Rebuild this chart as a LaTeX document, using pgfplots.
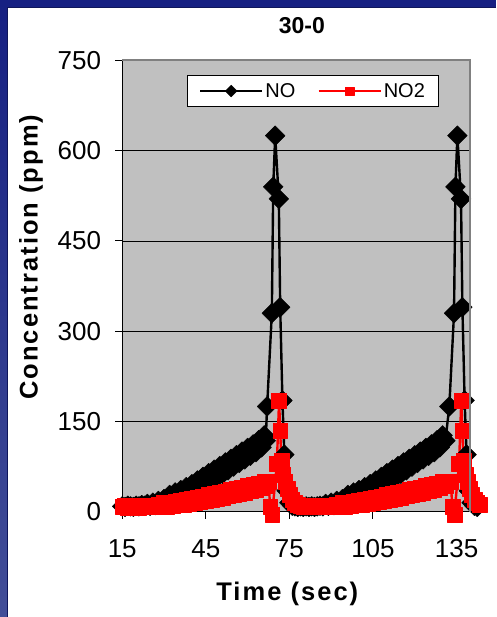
\documentclass[border=0pt]{standalone}
\usepackage{fontspec}
\setmainfont{Liberation Sans}
\newfontfamily\lblfont[LetterSpace=8]{Liberation Sans}
\usepackage{pgfplots}
\usepackage{pgfplotstable}
\pgfplotsset{compat=1.18}
\definecolor{plotgray}{RGB}{192,192,192}
\definecolor{framegray}{RGB}{128,128,128}
\definecolor{navytop}{RGB}{22,32,130}
\definecolor{navybot}{RGB}{66,78,152}
\definecolor{exred}{RGB}{255,0,0}

\pgfplotstableread{
t v
15 9
16 8
17 10
18 9
19 8
20 10
21 9
22 11
23 10
24 13
25 10
26 15
27 11
28 18
29 12
30 21
31 13
32 28
33 14
34 32
35 18
36 36
37 23
38 41
39 28
40 46
41 33
42 52
43 39
44 58
45 45
46 64
47 51
48 70
49 57
50 76
51 63
52 82
53 69
54 88
55 75
56 94
57 81
58 100
59 87
60 106
61 93
62 112
63 99
64 119
65 107
66 127
66.5 118
67 175
68.7 330
69.2 540
69.9 625
71.2 520
71.7 340
72.5 185
73.2 95
74 35
75 15
76 10
77 9
78 8
79 9
80 8
81 9
82 8
83 9
84 8
85 9
86 10
87 9
88 13
89 10
90 15
91 11
92 18
93 12
94 21
95 13
96 28
97 14
98 32
99 18
100 36
101 23
102 41
103 28
104 46
105 33
106 52
107 39
108 58
109 45
110 64
111 51
112 70
113 57
114 76
115 63
116 82
117 69
118 88
119 75
120 94
121 81
122 100
123 87
124 106
125 93
126 112
127 99
128 119
129 107
130 127
131 118
132.4 175
134.1 330
134.6 540
135.3 625
136.6 520
137.1 340
137.9 185
138.6 95
139.4 35
140.4 15
141.4 10
142.4 8
}\noTable

\pgfplotstableread{
t v
15 8
16 10
17 7
18 9
19 8
20 10
21 7
22 9
23 8
24 10
25 8
26 11
27 9
28 12
29 10
30 15
31 9
32 16
33 10
34 17
35 11
36 19
37 12
38 20
39 13
40 22
41 15
42 24
43 16
44 26
45 18
46 28
47 20
48 30
49 22
50 32
51 24
52 34
53 26
54 36
55 28
56 38
57 30
58 40
59 32
60 43
61 34
62 45
63 36
64 47
65 39
66 50
67 43
67.5 50
68.1 8
68.8 -5
70.5 80
71.3 185
71.7 135
72.1 85
72.8 62
73.5 50
74.3 38
75 28
76 20
77 15
78 12
79 10
80 9
81 10
82 9
83 10
84 9
85 10
86 9
87 10
88 10
89 8
90 11
91 9
92 12
93 10
94 15
95 9
96 16
97 10
98 17
99 11
100 19
101 12
102 20
103 13
104 22
105 15
106 24
107 16
108 26
109 18
110 28
111 20
112 30
113 22
114 32
115 24
116 34
117 26
118 36
119 28
120 38
121 30
122 40
123 32
124 43
125 34
126 45
127 36
128 47
129 39
130 50
131 43
132.9 50
133.5 8
134.2 -5
135.9 80
136.7 185
137.1 135
137.5 85
138.2 62
138.9 50
139.7 38
140.4 28
141.4 20
142.4 15
143.2 12
}\notwoTable

\begin{document}
\begin{tikzpicture}[x=1pt,y=1pt]
\shade[top color=navytop,bottom color=navybot] (0,0) rectangle (496,617);
\fill[white] (7.3,0) rectangle (496,610);
\draw[navytop!70!black, line width=0.6pt] (7.3,0) -- (7.3,610) -- (496,610);
\begin{axis}[
  at={(122.3pt,105pt)}, anchor=south west,
  scale only axis, width=348.4pt, height=451.5pt,
  xmin=15, xmax=140, ymin=0, ymax=750,
  xtick={15,45,75,105,135}, ytick={0,150,...,750},
  clip=false,
  axis line style={black, line width=1.2pt},
  tick pos=left, tick align=outside, major tick length=7pt,
  tick style={black, line width=1pt},
  ymajorgrids, grid style={black, line width=0.8pt},
  axis background/.style={fill=plotgray},
  /pgf/number format/assume math mode=true,
  ticklabel style={font=\fontsize{26}{30}\selectfont},
  xticklabel style={anchor=center, inner sep=0pt, yshift=-30pt},
  yticklabel style={anchor=east, inner sep=0pt, xshift=-14pt},
  title={30-0},
  title style={at={(axis description cs:0.516,1.063)}, anchor=center, font=\bfseries\fontsize{23}{27}\selectfont},
  xlabel={Time (sec)},
  xlabel style={at={(axis description cs:0.474,-0.1816)}, anchor=center, font=\lblfont\fontsize{25.5}{30}\selectfont\bfseries},
  ylabel={Concentration (ppm)},
  ylabel style={at={(axis description cs:-0.262,0.564)}, anchor=center, font=\lblfont\fontsize{25.5}{30}\selectfont\bfseries},
  legend columns=2,
  legend style={at={(0.185,0.968)}, anchor=north west, draw=black, line width=0.8pt, fill=white,
    font=\fontsize{20}{24}\selectfont, inner xsep=12pt, inner ysep=6pt,
    /tikz/every even column/.append style={column sep=20pt}},
  legend image code/.code={\draw[mark repeat=2,mark phase=2,#1,mark size=4.2pt] plot coordinates {(0pt,0pt) (31pt,0pt) (62pt,0pt)};},
  after end axis/.code={\draw[framegray, line width=2pt] (rel axis cs:0,1) -- (rel axis cs:1,1) -- (rel axis cs:1,0);},
]
\addplot[black, line width=2.4pt, line join=round, mark=square*, mark size=7pt,
  mark options={rotate=45, fill=black, draw=black, line width=0.4pt}] table[x=t,y=v] {\noTable};
\addlegendentry{NO}
\addplot[exred, line width=2.4pt, line join=round, mark=square*, mark size=7.4pt,
  mark options={fill=exred, draw=exred, line width=0.4pt}] table[x=t,y=v] {\notwoTable};
\addlegendentry{NO2}
\end{axis}
\end{tikzpicture}
\end{document}
